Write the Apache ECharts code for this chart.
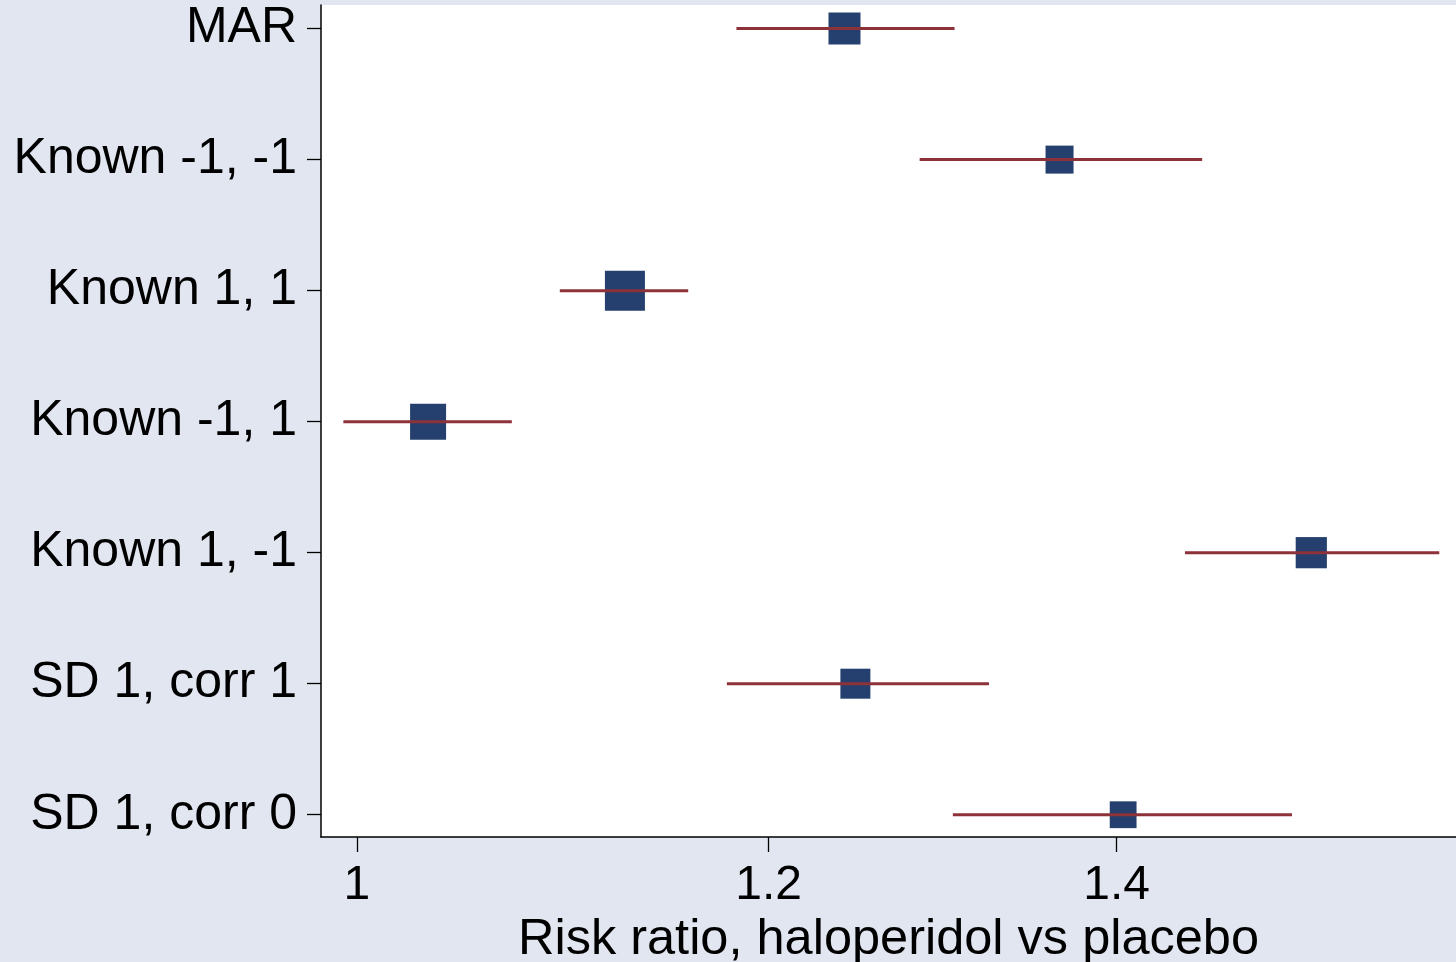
<!DOCTYPE html>
<html>
<head>
<meta charset="utf-8">
<script src="https://cdn.jsdelivr.net/npm/echarts@6/dist/echarts.min.js"></script>
<style>
html,body{margin:0;padding:0;background:#E1E6F0;overflow:hidden;}
#chart{width:1456px;height:962px;}
</style>
</head>
<body>
<div id="chart"></div>
<script>
// Data (risk ratios)
const categories = ['MAR', 'Known -1, -1', 'Known 1, 1', 'Known -1, 1', 'Known 1, -1', 'SD 1, corr 1', 'SD 1, corr 0'];
const estimate = [1.241, 1.365, 1.126, 1.032, 1.526, 1.247, 1.404];
const lower    = [1.183, 1.283, 1.094, 0.994, 1.443, 1.178, 1.302];
const upper    = [1.303, 1.454, 1.158, 1.071, 1.615, 1.323, 1.513];
const weights  = [0.80, 0.70, 1.00, 0.90, 0.78, 0.75, 0.67];
const xTicks   = [1, 1.2, 1.4];

const chart = echarts.init(document.getElementById('chart'));
const font = 'Liberation Sans, Arial, Helvetica, sans-serif';
const rowIdx = categories.map((c, i) => i);

const pointData = estimate.map((v, i) => [v, i, weights[i]]);
const ciData = lower.map((lo, i) => [lo, upper[i], i]);

chart.setOption({
  backgroundColor: '#E1E6F0',
  animation: false,
  grid: {
    left: 321, right: 0, top: 5, bottom: 125,
    containLabel: false,
    outerBoundsMode: 'none',
    show: true, backgroundColor: '#ffffff', borderWidth: 0
  },
  xAxis: {
    type: 'log',
    logBase: 10,
    min: 0.9842,
    max: 1.627,
    name: 'Risk ratio, haloperidol vs placebo',
    nameLocation: 'middle',
    nameGap: 73,
    nameTextStyle: { fontSize: 50.5, color: '#000', fontFamily: font },
    axisLine: { show: true, onZero: false, lineStyle: { color: '#000', width: 1.5 } },
    axisTick: { show: true, length: 15, customValues: xTicks, lineStyle: { color: '#000', width: 1.3 } },
    axisLabel: {
      customValues: xTicks,
      fontSize: 48, color: '#000', fontFamily: font, margin: 25,
      formatter: v => String(Math.round(v * 10) / 10)
    },
    splitLine: { show: false },
    minorTick: { show: false }
  },
  yAxis: {
    type: 'value',
    inverse: true,
    min: -0.18,
    max: 6.17,
    axisLine: { show: true, onZero: false, lineStyle: { color: '#000', width: 1.5 } },
    axisTick: { show: true, length: 14, customValues: rowIdx, lineStyle: { color: '#000', width: 1.3 } },
    axisLabel: {
      customValues: rowIdx,
      fontSize: 50, color: '#000', fontFamily: font, margin: 24,
      padding: [9, 0, 0, 0],
      formatter: v => categories[Math.round(v)] || ''
    },
    splitLine: { show: false }
  },
  series: [
    {
      type: 'scatter',
      data: pointData,
      symbol: 'rect',
      symbolSize: v => 40 * v[2],
      itemStyle: { color: '#25406E', opacity: 1 },
      z: 2
    },
    {
      type: 'custom',
      data: ciData,
      encode: { x: [0, 1], y: 2 },
      renderItem: function (params, api) {
        const p1 = api.coord([api.value(0), api.value(2)]);
        const p2 = api.coord([api.value(1), api.value(2)]);
        return {
          type: 'line',
          shape: { x1: p1[0], y1: p1[1], x2: p2[0], y2: p2[1] },
          style: { stroke: '#8E323A', lineWidth: 3 }
        };
      },
      z: 3
    }
  ]
});
</script>
</body>
</html>
